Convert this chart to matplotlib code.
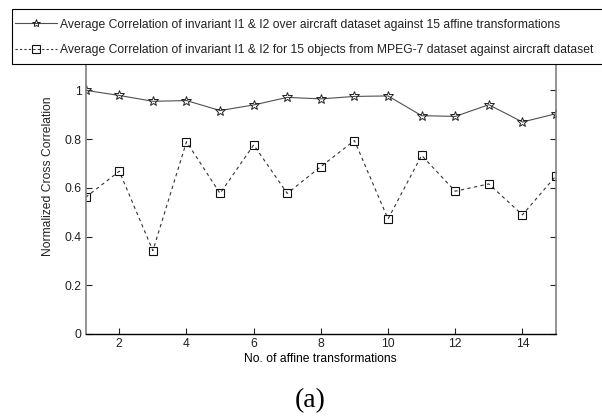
import matplotlib
matplotlib.use("Agg")
import matplotlib.pyplot as plt
from matplotlib.lines import Line2D
from matplotlib.patches import Rectangle

x_vals = list(range(1, 16))
aircraft_corr = [1.0, 0.979, 0.955, 0.958, 0.917, 0.940, 0.971, 0.965, 0.975, 0.977,
                 0.896, 0.893, 0.941, 0.870, 0.904]
mpeg7_corr = [0.561, 0.668, 0.342, 0.789, 0.577, 0.776, 0.577, 0.687, 0.794, 0.472,
              0.733, 0.586, 0.616, 0.489, 0.649]
x_ticks = [2, 4, 6, 8, 10, 12, 14]
y_ticks = [0, 0.2, 0.4, 0.6, 0.8, 1]
y_ticklabels = ["0", "0.2", "0.4", "0.6", "0.8", "1"]
label_1 = "Average Correlation of invariant I1 & I2 over aircraft dataset against 15 affine transformations"
label_2 = "Average Correlation of invariant I1 & I2 for 15 objects from MPEG-7 dataset against aircraft dataset"

plt.rcParams['font.family'] = ['Liberation Sans', 'DejaVu Sans']
FS = 8.7

W, H = 602, 420
fig = plt.figure(figsize=(W / 100, H / 100), dpi=100)
left, right, bottom_px, top_px = 85.7, 556.0, 334.0, 41.6
ax = fig.add_axes([left / W, (H - bottom_px) / H, (right - left) / W, (bottom_px - top_px) / H])

ax.plot(x_vals, aircraft_corr, color='#505050', lw=0.8, marker='*', markersize=7,
        markerfacecolor='none', markeredgecolor='#222222', markeredgewidth=0.7)
ax.plot(x_vals, mpeg7_corr, color='#333333', lw=0.8, ls=(0, (3, 3)), marker='s', markersize=6,
        markerfacecolor='none', markeredgecolor='#111111', markeredgewidth=0.8)

ax.set_xlim(1, 15)
ax.set_ylim(0, 1.2)
ax.set_xticks(x_ticks)
ax.set_yticks(y_ticks)
ax.set_yticklabels(y_ticklabels)
ax.tick_params(direction='in', length=4, width=0.8, labelsize=FS, right=True, top=False,
               colors='#222222', pad=3)
for side in ['left', 'right', 'top']:
    ax.spines[side].set_color('#808080')
    ax.spines[side].set_linewidth(1.2)
ax.spines['bottom'].set_color('black')
ax.spines['bottom'].set_linewidth(1.0)

ax.set_xlabel("No. of affine transformations", fontsize=FS, labelpad=2)
fig.text(48 / W, 1 - 176.5 / H, "Normalized Cross Correlation", rotation=90,
         fontsize=FS, ha='center', va='center', color='#222222')

fig.text(310 / W, 1 - 401 / H, "(a)", family=['Liberation Serif', 'DejaVu Serif'],
         fontsize=20, ha='center', va='center')

# legend frame (extends past the right edge of the figure, as in the reference)
frame = Rectangle((11.7 / W, 1 - 64 / H), (640 - 11.7) / W, (64 - 9) / H,
                  transform=fig.transFigure, facecolor='white', edgecolor='black',
                  linewidth=0.8, zorder=9)
fig.add_artist(frame)

leg = fig.legend(handles=[
    Line2D([], [], color='#505050', lw=0.8, marker='*', markersize=6,
           markerfacecolor='none', markeredgecolor='#222222', markeredgewidth=0.7),
    Line2D([], [], color='#333333', lw=0.8, ls=(0, (2, 2)), marker='s', markersize=5.5,
           markerfacecolor='none', markeredgecolor='#111111', markeredgewidth=0.8)],
    labels=[label_1, label_2],
    loc='center left', bbox_to_anchor=(15 / W, 1 - 37.5 / H), bbox_transform=fig.transFigure,
    fontsize=FS, frameon=False,
    handlelength=3.48, handletextpad=0.25, borderpad=0, labelspacing=1.15,
    borderaxespad=0)
for t in leg.get_texts():
    t.set_color('#222222')
leg.set_zorder(10)

fig.savefig("out.png", dpi=100)
